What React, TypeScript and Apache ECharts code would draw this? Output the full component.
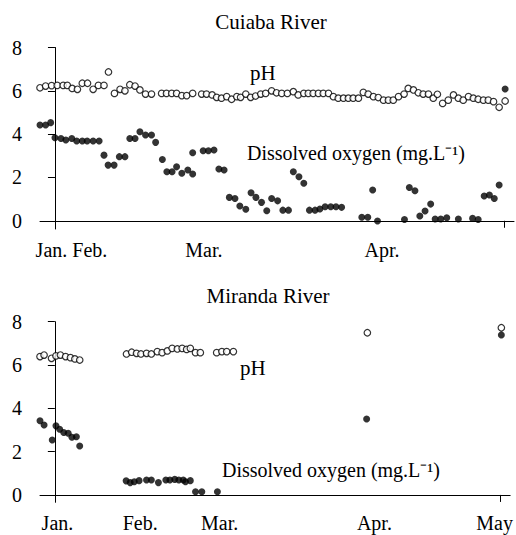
import React, { useEffect, useRef } from "react";
import * as echarts from "echarts";

// ---- Data (x = day offset: 0 at the first x tick, 120 at the last x tick) ----
const cuiabaPh: [number, number][] = [
  [-4.0, 6.14], [-2.5, 6.22], [-0.9, 6.24], [0.6, 6.25], [2.2, 6.25], [3.3, 6.25],
  [4.6, 6.11], [6.0, 6.07], [7.3, 6.35], [8.7, 6.35], [10.2, 6.07], [11.6, 6.25],
  [13.1, 6.25], [14.3, 6.87], [15.9, 5.88], [17.4, 6.07], [18.7, 6.0], [20.0, 6.28],
  [21.4, 6.22], [22.7, 6.04], [24.2, 5.85], [25.8, 5.85], [28.5, 5.88], [29.8, 5.88],
  [31.2, 5.88], [32.5, 5.88], [33.9, 5.78], [35.2, 5.78], [36.8, 5.88], [39.2, 5.85],
  [40.5, 5.85], [42.0, 5.81], [43.2, 5.7], [44.5, 5.66], [45.9, 5.73], [47.2, 5.61],
  [48.6, 5.73], [49.6, 5.7], [51.0, 5.85], [52.3, 5.7], [53.6, 5.76], [55.0, 5.85],
  [56.3, 5.88], [57.9, 6.0], [59.2, 5.91], [60.6, 5.88], [62.1, 5.88], [63.7, 5.96],
  [65.0, 5.81], [66.5, 5.88], [67.7, 5.88], [69.0, 5.88], [70.4, 5.88], [71.7, 5.88],
  [73.1, 5.88], [74.4, 5.73], [75.7, 5.66], [77.1, 5.66], [78.4, 5.66], [79.7, 5.66],
  [81.1, 5.66], [82.4, 5.93], [83.7, 5.85], [85.1, 5.73], [86.4, 5.69], [87.8, 5.57],
  [89.1, 5.57], [90.4, 5.57], [91.8, 5.73], [93.3, 5.85], [94.4, 6.11], [95.8, 6.04],
  [97.1, 5.91], [98.4, 5.85], [99.8, 5.85], [101.1, 5.66], [102.2, 5.84], [103.6, 5.42],
  [105.1, 5.57], [106.5, 5.81], [107.8, 5.66], [109.1, 5.57], [110.5, 5.73], [111.8, 5.66],
  [113.1, 5.61], [114.5, 5.57], [115.8, 5.57], [117.2, 5.5], [118.7, 5.24], [120.3, 5.53],
];

const cuiabaOxygen: [number, number][] = [
  [-4.0, 4.42], [-2.5, 4.42], [-1.15, 4.53],
  [0.0, 3.83], [1.6, 3.8], [2.9, 3.73], [4.5, 3.8], [5.8, 3.68], [7.3, 3.68],
  [8.6, 3.68], [10.2, 3.68], [11.8, 3.68], [13.1, 3.03], [14.2, 2.57], [15.8, 2.57],
  [17.2, 2.96], [18.7, 2.96], [20.0, 3.8], [21.4, 3.8], [22.7, 4.11], [24.2, 3.96],
  [25.8, 3.96], [26.9, 3.62], [28.7, 2.83], [29.9, 2.26], [31.3, 2.26], [32.5, 2.49],
  [33.9, 2.19], [35.5, 2.34], [36.8, 2.16], [36.8, 3.14], [39.6, 3.23], [41.0, 3.23],
  [42.5, 3.27], [43.8, 2.39], [45.2, 2.34], [46.6, 1.08], [48.1, 1.03], [49.4, 0.68],
  [51.0, 0.53], [52.4, 1.29], [53.7, 1.08], [55.2, 0.85], [56.6, 0.46], [57.9, 1.03],
  [59.5, 0.92], [60.9, 0.49], [62.4, 0.49], [63.7, 2.26], [65.2, 2.03], [66.5, 1.73],
  [68.0, 0.49], [69.5, 0.49], [70.8, 0.54], [72.2, 0.65], [73.7, 0.65], [75.1, 0.65],
  [76.6, 0.62], [82.0, 0.16], [83.6, 0.16], [84.9, 1.42], [86.2, -0.01], [93.4, 0.06],
  [94.7, 1.54], [96.2, 1.39], [97.5, 0.22], [98.9, 0.45], [100.4, 0.77], [101.6, 0.08],
  [103.1, 0.08], [104.7, 0.14], [107.8, 0.08], [111.6, 0.11], [113.1, 0.06], [114.7, 1.14],
  [116.1, 1.19], [117.4, 1.03], [118.7, 1.65], [120.3, 6.08],
];

const mirandaPh: [number, number][] = [
  [-4.0, 6.39], [-2.9, 6.46], [-0.9, 6.31], [0.3, 6.42], [1.5, 6.46], [2.9, 6.39],
  [4.2, 6.34], [5.4, 6.28], [6.7, 6.23],
  [19.3, 6.51], [20.7, 6.59], [22.0, 6.54], [23.2, 6.51], [24.7, 6.54], [26.0, 6.51],
  [27.6, 6.62], [28.9, 6.57], [30.3, 6.65], [31.6, 6.77], [33.0, 6.74], [34.3, 6.77],
  [35.5, 6.72], [36.5, 6.77], [37.9, 6.57], [39.2, 6.57], [43.6, 6.57], [45.0, 6.62],
  [46.3, 6.62], [48.1, 6.62],
  [84.2, 7.49], [120.3, 7.72],
];

const mirandaOxygen: [number, number][] = [
  [-4.0, 3.43], [-2.9, 3.23], [-0.7, 2.54], [0.3, 3.19], [1.3, 3.03], [2.4, 2.88],
  [3.6, 2.85], [4.6, 2.66], [5.8, 2.69], [6.7, 2.26],
  [19.2, 0.65], [20.3, 0.57], [21.4, 0.61], [22.7, 0.66], [24.7, 0.69], [26.0, 0.69],
  [27.9, 0.57], [29.9, 0.69], [31.0, 0.69], [32.3, 0.72], [33.4, 0.69], [34.6, 0.69],
  [35.2, 0.61], [36.5, 0.66], [37.9, 0.15], [39.6, 0.15], [43.8, 0.15],
  [84.0, 3.51], [120.3, 7.39],
];

const yTicks = [0, 2, 4, 6, 8];
const xTicks = [0, 120];
const cuiabaMonthLabels = ["Jan. Feb.", "Mar.", "Apr."];
const cuiabaMonthPos = [4.4, 39.8, 87.4];
const mirandaMonthLabels = ["Jan.", "Feb.", "Mar.", "Apr.", "May"];
const mirandaMonthPos = [0.7, 23.0, 44.4, 86.1, 118.5];

const FONT = "'Liberation Serif', 'Times New Roman', serif";

function xAxisFor(gridIndex: number, pos: number[], labels: string[]) {
  return {
    type: "value",
    gridIndex,
    min: -4,
    max: 122.67,
    axisLine: { show: true, lineStyle: { color: "#000", width: 1 } },
    axisTick: { show: true, customValues: xTicks, length: 7, lineStyle: { color: "#000" } },
    axisLabel: {
      show: true,
      customValues: pos,
      margin: 11,
      color: "#000",
      fontFamily: FONT,
      fontSize: 20,
      formatter: (v: number) => {
        const i = pos.findIndex((p) => Math.abs(p - v) < 1e-6);
        return i >= 0 ? labels[i] : "";
      },
    },
    splitLine: { show: false },
  };
}

function yAxisFor(gridIndex: number, min: number) {
  return {
    type: "value",
    gridIndex,
    min,
    max: 8,
    axisLine: { show: true, lineStyle: { color: "#000", width: 1 } },
    axisTick: { show: true, customValues: yTicks, length: 7, lineStyle: { color: "#000" } },
    axisLabel: {
      show: true,
      customValues: yTicks,
      margin: 18,
      color: "#000",
      fontFamily: FONT,
      fontSize: 20,
    },
    splitLine: { show: false },
  };
}

const openStyle = { color: "#fff", borderColor: "#000", borderWidth: 1.2 };
const filledStyle = { color: "#000" };

export default function App() {
  const ref = useRef<HTMLDivElement>(null);
  useEffect(() => {
    document.body.style.margin = "0";
    if (!ref.current) return;
    const chart = echarts.init(ref.current, undefined, { renderer: "svg" });
    const textStyle = (text: string, size = 20) => ({
      text,
      fill: "#000",
      font: `${size}px ${FONT}`,
      textVerticalAlign: "middle",
    });
    chart.setOption({
      animation: false,
      backgroundColor: "#fff",
      grid: [
        { left: 40, top: 47.5, width: 474, height: 181.5 },
        { left: 40, top: 321.7, width: 474, height: 180.6 },
      ],
      xAxis: [
        xAxisFor(0, cuiabaMonthPos, cuiabaMonthLabels),
        xAxisFor(1, mirandaMonthPos, mirandaMonthLabels),
      ],
      yAxis: [yAxisFor(0, -0.38), yAxisFor(1, -0.34)],
      series: [
        { name: "Cuiaba pH", type: "scatter", xAxisIndex: 0, yAxisIndex: 0, data: cuiabaPh, symbol: "circle", symbolSize: 6.5, itemStyle: openStyle },
        { name: "Cuiaba dissolved oxygen", type: "scatter", xAxisIndex: 0, yAxisIndex: 0, data: cuiabaOxygen, symbol: "circle", symbolSize: 7, itemStyle: filledStyle },
        { name: "Miranda pH", type: "scatter", xAxisIndex: 1, yAxisIndex: 1, data: mirandaPh, symbol: "circle", symbolSize: 6.5, itemStyle: openStyle },
        { name: "Miranda dissolved oxygen", type: "scatter", xAxisIndex: 1, yAxisIndex: 1, data: mirandaOxygen, symbol: "circle", symbolSize: 7, itemStyle: filledStyle },
      ],
      graphic: [
        { type: "text", x: 271, y: 22, style: { ...textStyle("Cuiaba River", 21), textAlign: "center" } },
        { type: "text", x: 268, y: 296, style: { ...textStyle("Miranda River", 21), textAlign: "center" } },
        { type: "text", x: 250, y: 73, style: { ...textStyle("pH", 21), textAlign: "left" } },
        { type: "text", x: 247, y: 153, style: { ...textStyle("Dissolved oxygen (mg.L\u207B\u00B9)"), textAlign: "left" } },
        { type: "text", x: 240, y: 368, style: { ...textStyle("pH", 21), textAlign: "left" } },
        { type: "text", x: 222, y: 470, style: { ...textStyle("Dissolved oxygen (mg.L\u207B\u00B9)"), textAlign: "left" } },
      ],
    });
    return () => chart.dispose();
  }, []);
  return <div ref={ref} style={{ width: 516, height: 535 }} />;
}
